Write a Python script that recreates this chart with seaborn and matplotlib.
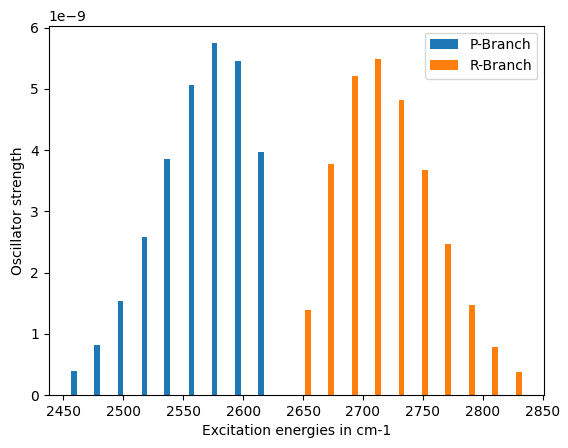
import numpy as np
import matplotlib
matplotlib.use("Agg")
import matplotlib.pyplot as plt
import seaborn as sns

# ------------------------------
# data
# ------------------------------
p_energy = [2458.7, 2478.1, 2497.6, 2517.4, 2536.3, 2556.6, 2575.8, 2595.8, 2615.0]
p_strength = [0.39, 0.816, 1.534, 2.579, 3.852, 5.06, 5.745, 5.45, 3.966]

r_energy = [2654.0, 2673.4, 2693.4, 2712.6, 2732.4, 2751.9, 2771.0, 2791.0, 2810.3, 2830.3]
r_strength = [1.387, 3.770, 5.207, 5.484, 4.815, 3.672, 2.465, 1.469, 0.783, 0.375]

p_strength = np.array(p_strength) * 1e-9
r_strength = np.array(r_strength) * 1e-9

colors = sns.color_palette("tab10")

fig = plt.figure(figsize=(5.68, 4.48), dpi=100)
ax = fig.add_axes([48.7 / 568, 53 / 448, 495.6 / 568, 369.4 / 448])

sns.barplot(x=p_energy, y=p_strength, native_scale=True, width=0.237,
            color=colors[0], saturation=1, errorbar=None, label="P-Branch", ax=ax)
sns.barplot(x=r_energy, y=r_strength, native_scale=True, width=0.237,
            color=colors[1], saturation=1, errorbar=None, label="R-Branch", ax=ax)

ax.set_xlabel("Excitation energies in cm-1")
ax.set_ylabel("Oscillator strength")
ax.set_xticks(range(2450, 2851, 50))
ax.legend(loc="upper right")

plt.savefig("out.png", dpi=100)
plt.close()
